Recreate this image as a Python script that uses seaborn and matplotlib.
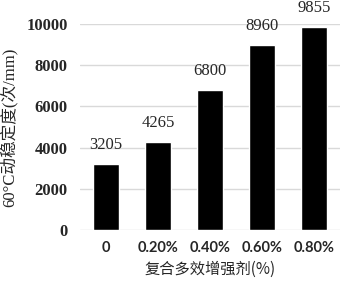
import matplotlib
matplotlib.use("Agg")
import matplotlib.pyplot as plt
import seaborn as sns
import pandas as pd

categories = ["0", "0.20%", "0.40%", "0.60%", "0.80%"]
values = [3205, 4265, 6800, 8960, 9855]
yticks = [0, 2000, 4000, 6000, 8000, 10000]

sns.set_theme(style="white")
plt.rcParams['font.family'] = ['Liberation Serif', 'Noto Sans CJK SC']

df = pd.DataFrame({"cat": categories, "val": values})
fig = plt.figure(figsize=(3.48, 2.88), dpi=100)
ax = fig.add_axes([0.23, 0.201, 0.747, 0.716])
sns.barplot(data=df, x="cat", y="val", color="black", width=0.49, ax=ax, saturation=1, zorder=3)
ax.set_ylim(0, 10000)
ax.set_yticks(yticks)
ax.set_yticklabels([str(t) for t in yticks], fontsize=12, fontweight="bold", family="Liberation Serif")
ax.set_xticks(range(len(categories)))
ax.set_xticklabels(categories, fontsize=10.5, fontweight="bold", family="Lato")
ax.yaxis.grid(True, color="#d9d9d9", linewidth=1, zorder=0)
for s in ax.spines.values():
    s.set_visible(False)
ax.tick_params(axis="y", length=0, pad=9)
ax.tick_params(axis="x", length=0, pad=8)
for i, v in enumerate(values):
    ax.text(i, v + 550, str(v), ha="center", va="bottom", fontsize=12, family="Liberation Serif", clip_on=False)
ax.set_xlabel("复合多效增强剂(%)", fontsize=11, family=["Noto Sans CJK SC", "DejaVu Sans"], labelpad=4)
ax.set_ylabel("60°C动稳定度(次/mm)", fontsize=12, family=["Liberation Serif", "Noto Sans CJK SC"], labelpad=6)
fig.savefig("out.png", dpi=100)
